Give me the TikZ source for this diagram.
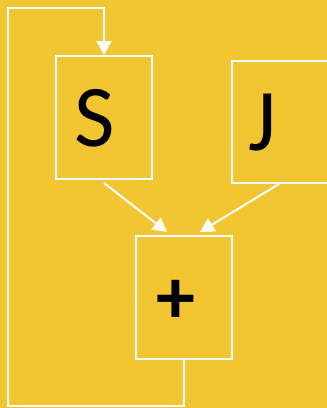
\documentclass[tikz,border=0pt]{standalone}
\usepackage{fontspec}
\setmainfont{Carlito}
\usetikzlibrary{arrows.meta}
\definecolor{bgyellow}{RGB}{242,197,50}
\begin{document}
\begin{tikzpicture}[x=1pt,y=-1pt,
  box/.style={draw=white,line width=2pt,minimum width=96pt,inner sep=0pt},
  glyph/.style={font=\fontsize{88}{88}\selectfont,text=black,inner sep=0pt},
  wire/.style={draw=white,line width=2pt},
  tip/.style={-{Triangle[width=15pt,length=14pt]}}]
  % canvas
  \fill[bgyellow] (0,0) rectangle (327,408);
  \useasboundingbox (0,0) rectangle (327,408);
  % blocks
  \node[box,minimum height=123pt] (S) at (104,117.5) {};
  \node[box,minimum height=122pt] (J) at (280,122) {};
  \node[box,minimum height=123pt] (P) at (184,297.5) {};
  % block labels
  \node[glyph,anchor=base] (Stxt) at (94.5,146) {S};
  \node[glyph,anchor=base] (Jtxt) at (262.5,150) {J};
  \node[glyph,font=\fontsize{78}{78}\selectfont\bfseries,anchor=center] (Ptxt) at (176,301.5) {+};
  % inputs into the adder
  \coordinate (Sout) at (104,183);
  \coordinate (Pin1) at (167,232);
  \coordinate (Jout) at (279,184);
  \coordinate (Pin2) at (200,232);
  \draw[wire,tip] (Sout) -- (Pin1);
  \draw[wire,tip] (Jout) -- (Pin2);
  % feedback loop from the adder back to S
  \coordinate (lb) at (184,406);
  \coordinate (ll) at (8,406);
  \coordinate (lt) at (8,8);
  \coordinate (lr) at (104,8);
  \draw[wire,tip] (P.south) -- (lb) -- (ll) -- (lt) -- (lr) -- (S.north);
\end{tikzpicture}
\end{document}
